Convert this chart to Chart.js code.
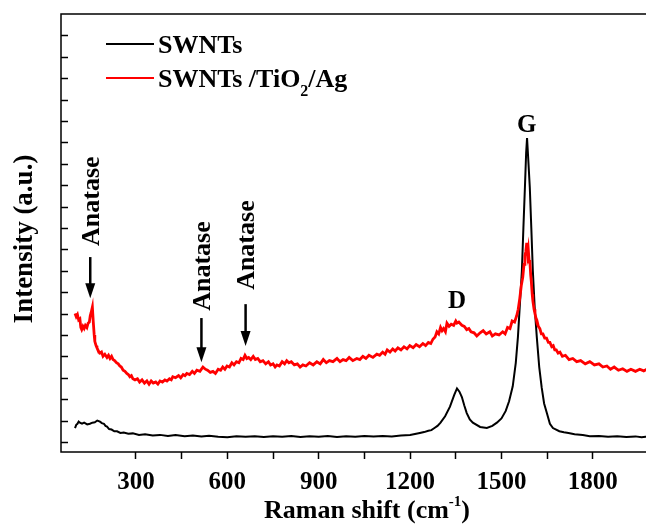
<!DOCTYPE html>
<html>
<head>
<meta charset="utf-8">
<title>Raman spectra</title>
<script src="https://cdn.jsdelivr.net/npm/chart.js@4.4.1/dist/chart.umd.min.js"></script>
<style>
  html, body { margin: 0; padding: 0; background: #fff; overflow: hidden; }
  #wrap { width: 646px; height: 526px; overflow: hidden; }
  canvas { display: block; }
</style>
</head>
<body>
<div id="wrap"><canvas id="raman" width="690" height="526"></canvas></div>
<script>
// Raman spectra — SWNTs vs SWNTs/TiO2/Ag (intensity in arbitrary units)
var hybridShift = [100, 104, 108, 112, 116, 119, 122, 126, 130, 134, 139, 143, 147, 150, 153, 157, 160, 163, 165, 169,
  172, 177, 182, 187, 192, 198, 205, 210, 215, 220, 225, 230, 236, 242, 247, 252, 258, 264, 270, 275,
  280, 285, 290, 297, 305, 312, 320, 328, 336, 343, 350, 357, 365, 372, 379, 387, 395, 402, 410, 416,
  421, 430, 440, 447, 455, 461, 467, 476, 485, 492, 500, 510, 520, 528, 535, 544, 553, 561, 570, 578,
  585, 592, 599, 607, 615, 622, 630, 638, 645, 652, 658, 664, 670, 677, 685, 692, 700, 708, 717, 726,
  735, 742, 750, 757, 763, 771, 780, 788, 795, 802, 810, 820, 830, 839, 848, 858, 870, 882, 894, 905,
  915, 925, 935, 947, 960, 970, 980, 990, 1000, 1012, 1025, 1035, 1045, 1055, 1065, 1078, 1091, 1100, 1110, 1118,
  1125, 1134, 1143, 1151, 1160, 1170, 1180, 1190, 1199, 1210, 1220, 1231, 1242, 1251, 1260, 1268, 1275, 1282, 1288, 1294,
  1300, 1305, 1310, 1316, 1321, 1328, 1335, 1343, 1350, 1354, 1360, 1370, 1378, 1386, 1393, 1400, 1410, 1419, 1430, 1440,
  1450, 1462, 1470, 1480, 1492, 1504, 1512, 1520, 1528, 1535, 1543, 1550, 1555, 1560, 1565, 1570, 1574, 1577, 1580, 1583,
  1586, 1588, 1591, 1593, 1596, 1598, 1601, 1603, 1607, 1610, 1613, 1616, 1621, 1626, 1631, 1636, 1642, 1648, 1654, 1659,
  1665, 1670, 1675, 1680, 1686, 1692, 1700, 1710, 1722, 1734, 1747, 1760, 1775, 1790, 1805, 1820, 1833, 1846, 1858, 1870,
  1884, 1898, 1912, 1925, 1940, 1954, 1967, 1980];
var hybridIntensity = [6.0, 5.85, 5.95, 5.7, 5.75, 5.35, 5.25, 5.4, 5.3, 5.45, 5.35, 5.55, 5.6, 5.9, 6.05, 6.3, 5.6, 5.0, 4.7, 4.5,
  4.4, 4.25, 4.15, 4.2, 4.0, 4.1, 3.95, 4.05, 3.9, 4.0, 3.85, 3.8, 3.7, 3.65, 3.55, 3.5, 3.35, 3.3, 3.2, 3.15,
  3.05, 3.1, 2.95, 2.9, 2.95, 2.8, 2.9, 2.75, 2.85, 2.7, 2.85, 2.75, 2.8, 2.7, 2.85, 2.8, 2.9, 2.85, 2.95, 2.9,
  3.05, 3.0, 3.1, 3.0, 3.15, 3.1, 3.2, 3.15, 3.3, 3.2, 3.35, 3.3, 3.5, 3.4, 3.35, 3.25, 3.3, 3.2, 3.4, 3.35,
  3.5, 3.4, 3.55, 3.5, 3.7, 3.6, 3.75, 3.7, 3.9, 3.85, 4.05, 3.9, 3.95, 3.85, 4.0, 3.85, 3.9, 3.75, 3.8, 3.65,
  3.75, 3.6, 3.65, 3.5, 3.6, 3.55, 3.75, 3.65, 3.8, 3.7, 3.75, 3.6, 3.65, 3.5, 3.6, 3.55, 3.7, 3.6, 3.75, 3.65,
  3.85, 3.7, 3.8, 3.75, 3.9, 3.75, 3.85, 3.8, 3.95, 3.8, 3.9, 3.85, 4.0, 3.9, 4.05, 3.95, 4.1, 4.05, 4.2, 4.1,
  4.3, 4.2, 4.35, 4.25, 4.4, 4.3, 4.45, 4.35, 4.5, 4.4, 4.55, 4.45, 4.6, 4.5, 4.65, 4.6, 4.8, 4.9, 5.15, 5.05,
  5.35, 5.2, 5.3, 5.15, 5.55, 5.4, 5.5, 5.45, 5.65, 5.55, 5.6, 5.45, 5.4, 5.25, 5.3, 5.15, 5.1, 4.95, 5.1, 5.2,
  5.05, 5.15, 4.95, 5.05, 5.0, 5.15, 5.05, 5.35, 5.3, 5.65, 5.6, 5.9, 6.2, 6.7, 7.3, 7.7, 8.3, 8.7, 8.9, 9.3,
  8.8, 9.0, 8.4, 8.5, 7.8, 7.5, 6.9, 6.6, 6.2, 6.0, 5.8, 5.7, 5.4, 5.3, 5.05, 5.05, 4.85, 4.85, 4.65, 4.65,
  4.45, 4.5, 4.3, 4.3, 4.15, 4.2, 4.0, 4.05, 3.85, 3.9, 3.75, 3.8, 3.65, 3.75, 3.6, 3.65, 3.5, 3.55, 3.4, 3.5,
  3.35, 3.42, 3.3, 3.4, 3.3, 3.4, 3.32, 3.42];

var swntShift = [100, 104, 108, 112, 116, 123, 130, 140, 149, 157, 165, 173, 182, 188, 195, 200, 205, 212, 220, 229,
  238, 249, 260, 275, 290, 310, 330, 355, 379, 405, 430, 460, 487, 515, 540, 570, 600, 630, 660, 690,
  720, 750, 780, 810, 840, 870, 900, 930, 960, 990, 1020, 1050, 1080, 1110, 1140, 1170, 1200, 1216, 1232, 1246,
  1260, 1270, 1280, 1290, 1300, 1315, 1331, 1345, 1354, 1362, 1370, 1378, 1386, 1396, 1406, 1430, 1452, 1470, 1485, 1500,
  1514, 1525, 1537, 1547, 1554, 1562, 1567, 1572, 1577, 1581, 1584, 1588, 1593, 1598, 1603, 1609, 1616, 1624, 1632, 1640,
  1649, 1659, 1669, 1690, 1705, 1720, 1740, 1767, 1790, 1820, 1850, 1880, 1910, 1940, 1960, 1980];
var swntIntensity = [0.65, 0.8, 0.85, 0.95, 0.9, 0.85, 0.9, 0.82, 0.85, 0.9, 0.92, 1.0, 0.95, 0.88, 0.85, 0.75, 0.72, 0.6, 0.58, 0.5,
  0.5, 0.42, 0.44, 0.38, 0.4, 0.33, 0.36, 0.3, 0.33, 0.28, 0.32, 0.27, 0.3, 0.26, 0.29, 0.24, 0.22, 0.27, 0.24, 0.27,
  0.23, 0.27, 0.24, 0.28, 0.23, 0.27, 0.24, 0.28, 0.23, 0.27, 0.24, 0.28, 0.25, 0.28, 0.26, 0.3, 0.32, 0.37, 0.42, 0.46,
  0.52, 0.55, 0.65, 0.75, 0.9, 1.2, 1.65, 2.2, 2.5, 2.35, 2.1, 1.7, 1.35, 1.05, 0.9, 0.7, 0.65, 0.75, 0.9, 1.1,
  1.45, 1.9, 2.6, 3.7, 4.9, 6.8, 8.0, 10.0, 11.9, 13.5, 14.2, 13.2, 11.9, 10.0, 8.0, 6.3, 4.9, 3.5, 2.55, 1.8,
  1.35, 0.85, 0.65, 0.5, 0.45, 0.42, 0.36, 0.32, 0.27, 0.28, 0.24, 0.27, 0.23, 0.26, 0.22, 0.25];

var seriesNames = ["SWNTs", "SWNTs /TiO", "2", "/Ag"];
var xTickLabels = [300, 600, 900, 1200, 1500, 1800];
var anatasePos = [150, 515, 660];          // arrow x (cm-1)
var anataseTip = [6.72, 3.73, 4.48];        // arrow tip (a.u.)
var anataseTail = [8.64, 5.79, 6.44];
var anataseText = [11.25, 8.22, 9.2];       // label centre (a.u.)
var bandNames = ["D", "G"];
var bandPos = [1354, 1583];
var bandY = [6.58, 14.8];

var SERIF = '"Liberation Serif", "Times New Roman", serif';

function toPoints(xs, ys) {
  return xs.map(function (x, i) { return { x: x, y: ys[i] }; });
}

// frame, inward y ticks, legend, arrows and labels
var decor = {
  id: "decor",
  afterDraw: function (chart) {
    var ctx = chart.ctx;
    var a = chart.chartArea;
    var xs = chart.scales.x, ys = chart.scales.y;
    ctx.save();
    ctx.strokeStyle = "#000";
    ctx.lineWidth = 1.5;
    ctx.strokeRect(a.left, a.top, a.right - a.left, a.bottom - a.top);

    // inward y ticks
    for (var t = 0; t <= 19; t++) {
      var py = Math.round(ys.getPixelForValue(t)) + 0.5;
      ctx.beginPath();
      ctx.moveTo(a.left, py);
      ctx.lineTo(a.left + 7, py);
      ctx.stroke();
    }

    // legend
    ctx.lineWidth = 2;
    ctx.strokeStyle = "#000";
    ctx.beginPath(); ctx.moveTo(106, 44); ctx.lineTo(154, 44); ctx.stroke();
    ctx.strokeStyle = "#f00";
    ctx.beginPath(); ctx.moveTo(106, 78); ctx.lineTo(154, 78); ctx.stroke();
    ctx.fillStyle = "#000";
    ctx.textBaseline = "alphabetic";
    ctx.textAlign = "left";
    ctx.font = "bold 26px " + SERIF;
    ctx.fillText(seriesNames[0], 158, 53);
    ctx.fillText(seriesNames[1], 158, 87);
    var w1 = ctx.measureText(seriesNames[1]).width;
    ctx.font = "bold 16px " + SERIF;
    ctx.fillText(seriesNames[2], 158 + w1, 96);
    var w2 = ctx.measureText(seriesNames[2]).width;
    ctx.font = "bold 26px " + SERIF;
    ctx.fillText(seriesNames[3], 158 + w1 + w2, 87);

    // anatase arrows
    ctx.strokeStyle = "#000";
    for (var i = 0; i < anatasePos.length; i++) {
      var ax = xs.getPixelForValue(anatasePos[i]);
      var tip = ys.getPixelForValue(anataseTip[i]);
      var tail = ys.getPixelForValue(anataseTail[i]);
      ctx.lineWidth = 2.5;
      ctx.beginPath(); ctx.moveTo(ax, tail); ctx.lineTo(ax, tip - 12); ctx.stroke();
      ctx.beginPath();
      ctx.moveTo(ax - 5, tip - 15);
      ctx.lineTo(ax + 5, tip - 15);
      ctx.lineTo(ax, tip);
      ctx.closePath();
      ctx.fill();

      ctx.save();
      ctx.translate(ax + 2, ys.getPixelForValue(anataseText[i]));
      ctx.rotate(-Math.PI / 2);
      ctx.font = "bold 26px " + SERIF;
      ctx.textAlign = "center";
      ctx.textBaseline = "middle";
      ctx.fillText("Anatase", 0, 0);
      ctx.restore();
    }

    // D and G bands
    ctx.font = "bold 25px " + SERIF;
    ctx.textAlign = "center";
    ctx.textBaseline = "middle";
    for (var j = 0; j < bandNames.length; j++) {
      ctx.fillText(bandNames[j], xs.getPixelForValue(bandPos[j]), ys.getPixelForValue(bandY[j]));
    }

    // axis titles
    ctx.font = "bold 26px " + SERIF;
    ctx.textAlign = "left";
    ctx.textBaseline = "alphabetic";
    var main = "Raman shift (cm";
    var wm = ctx.measureText(main).width;
    ctx.font = "bold 15px " + SERIF;
    var ws = ctx.measureText("-1").width;
    ctx.font = "bold 26px " + SERIF;
    var wc = ctx.measureText(")").width;
    var x0 = 367 - (wm + ws + wc) / 2;
    ctx.fillText(main, x0, 518);
    ctx.font = "bold 15px " + SERIF;
    ctx.fillText("-1", x0 + wm, 506);
    ctx.font = "bold 26px " + SERIF;
    ctx.fillText(")", x0 + wm + ws, 518);

    ctx.save();
    ctx.translate(25, 239);
    ctx.rotate(-Math.PI / 2);
    ctx.font = "bold 27px " + SERIF;
    ctx.textAlign = "center";
    ctx.textBaseline = "middle";
    ctx.fillText("Intensity (a.u.)", 0, 0);
    ctx.restore();

    ctx.restore();
  }
};

new Chart(document.getElementById("raman").getContext("2d"), {
  type: "line",
  data: {
    datasets: [{
      label: "SWNTs /TiO2/Ag",
      data: toPoints(hybridShift, hybridIntensity),
      borderColor: "#f00",
      borderWidth: 2.8,
      pointRadius: 0,
      tension: 0,
    }, {
      label: "SWNTs",
      data: toPoints(swntShift, swntIntensity),
      borderColor: "#000",
      borderWidth: 2,
      pointRadius: 0,
      tension: 0,
    }],
  },
  options: {
    responsive: false,
    animation: false,
    devicePixelRatio: 1,
    layout: { padding: { top: 14, right: 21, left: 0, bottom: 0 } },
    plugins: {
      legend: { display: false },
      title: { display: false },
      tooltip: { enabled: false },
    },
    scales: {
      x: {
        type: "linear",
        min: 54,
        max: 2050,
        afterBuildTicks: function (scale) {
          scale.ticks = scale.ticks.filter(function (t) { return t.value % 150 === 0; });
        },
        afterFit: function (scale) { scale.height = 74; },
        ticks: {
          stepSize: 150,
          autoSkip: false,
          maxRotation: 0,
          padding: 9,
          color: "#000",
          font: { family: SERIF, size: 25, weight: "bold" },
          callback: function (v) { return xTickLabels.indexOf(v) >= 0 ? String(v) : ""; },
        },
        grid: { drawOnChartArea: false, tickLength: 7, tickColor: "#000", tickWidth: 1.5 },
        border: { display: false },
      },
      y: {
        min: -0.47,
        max: 20,
        afterFit: function (scale) { scale.width = 61; },
        ticks: { display: false },
        grid: { display: false },
        border: { display: false },
      },
    },
  },
  plugins: [decor],
});
</script>
</body>
</html>
